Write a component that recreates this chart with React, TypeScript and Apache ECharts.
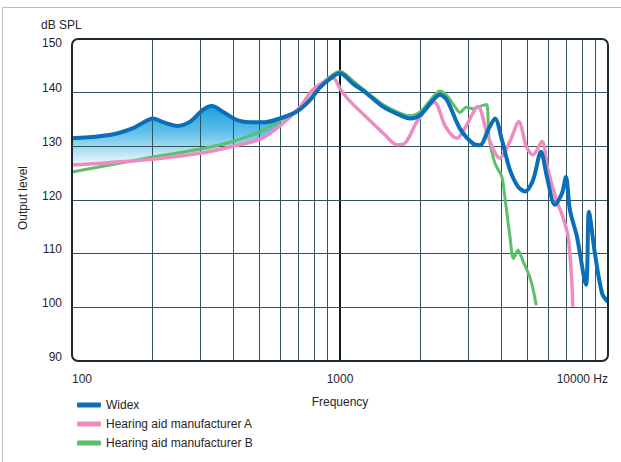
import React, { useEffect, useRef } from 'react';
import * as echarts from 'echarts';

// ---- Data ----
const widexFreq = [100, 127, 147, 169, 184, 200, 219, 247, 276, 308, 333, 372, 413, 462, 525, 597, 691, 773, 842, 942, 1000, 1118, 1261, 1446, 1674, 1824, 1989, 2223, 2360, 2508, 2803, 3136, 3329, 3567, 3788, 4019, 4306, 4615, 4900, 5250, 5623, 5918, 6340, 6730, 6966, 7211, 7656, 8274, 8492, 8933, 9506, 10000];
const widexLevel = [131.5, 131.9, 132.4, 133.4, 134.4, 135.2, 134.5, 133.8, 134.6, 136.8, 137.5, 136.2, 134.9, 134.5, 134.5, 135.2, 136.5, 138.6, 141.0, 143.0, 143.6, 141.7, 139.8, 137.4, 135.8, 135.2, 135.8, 138.6, 139.6, 138.6, 133.3, 130.5, 130.2, 133.0, 135.2, 131.2, 125.6, 122.5, 121.6, 123.7, 129.0, 124.3, 119.1, 121.2, 124.3, 118.1, 113.2, 104.2, 117.8, 110.1, 102.6, 101.0];

const mfrAFreq = [100, 200, 308, 398, 502, 597, 711, 793, 894, 942, 1000, 1080, 1269, 1473, 1630, 1740, 1953, 2250, 2474, 2730, 2925, 3273, 3567, 3951, 4306, 4650, 4960, 5250, 5670, 5970, 6420, 6780, 7100, 7320, 7390];
const mfrALevel = [126.5, 127.6, 128.8, 130.0, 131.3, 133.8, 137.4, 140.6, 142.4, 142.8, 140.8, 138.6, 135.2, 132.1, 130.3, 130.5, 134.9, 138.2, 133.7, 131.5, 133.4, 137.4, 131.8, 127.8, 130.9, 134.6, 129.9, 128.4, 130.9, 125.6, 120.0, 116.9, 113.2, 105.1, 100.1];

const mfrBFreq = [100, 200, 308, 398, 502, 597, 691, 773, 842, 942, 1000, 1118, 1261, 1446, 1674, 1824, 1989, 2223, 2360, 2508, 2700, 2803, 2960, 3136, 3350, 3520, 3600, 3788, 4019, 4120, 4306, 4440, 4615, 4800, 5150, 5400];
const mfrBLevel = [125.2, 128.0, 129.6, 130.9, 132.7, 134.8, 136.7, 138.9, 141.4, 143.4, 144.0, 142.2, 140.1, 137.8, 136.2, 135.7, 136.4, 139.2, 140.3, 139.4, 137.2, 136.3, 137.3, 137.0, 137.5, 137.8, 131.5, 126.8, 124.3, 120.6, 113.2, 109.1, 110.7, 108.8, 105.1, 100.4];

const seriesNames = ['Widex', 'Hearing aid manufacturer A', 'Hearing aid manufacturer B'];
const minorFreqs = [200, 300, 400, 500, 600, 700, 800, 900, 2000, 3000, 4000, 5000, 6000, 7000, 8000, 9000];
const gridLevels = [100, 110, 120, 130, 140];
const fillEndFreq = 597;

// ---- Styling ----
const FONT = '"Liberation Sans", Arial, Helvetica, sans-serif';
const TEXT = '#262626';
const GRIDC = '#34515d';
const BLUE = '#0b6eb9';
const PINK = '#ee8bc0';
const GREEN = '#5dbf6c';
const G = { left: 72, top: 39, right: 13, bottom: 101 };
const W = 621;
const H = 462;

const pairs = (xs: number[], ys: number[]) => xs.map((x, i) => [x, ys[i]]);

export default function App() {
  const ref = useRef<HTMLDivElement>(null);
  useEffect(() => {
    const chart = echarts.init(ref.current!, null, { renderer: 'svg', width: W, height: H });
    const upper = pairs(widexFreq, widexLevel).filter((p) => p[0] <= fillEndFreq);
    const lower = pairs(mfrAFreq, mfrALevel).filter((p) => p[0] <= fillEndFreq).reverse();

    const gridLines: any[] = [
      ...minorFreqs.map((f) => ({ xAxis: f, lineStyle: { color: GRIDC, width: 1, type: 'solid' } })),
      { xAxis: 1000, lineStyle: { color: '#111a1e', width: 2, type: 'solid' } },
      ...gridLevels.map((v) => ({ yAxis: v, lineStyle: { color: GRIDC, width: 1, type: 'solid' } })),
    ];

    const option: any = {
      animation: false,
      backgroundColor: '#ffffff',
      textStyle: { fontFamily: FONT },
      grid: { left: G.left, top: G.top, right: G.right, bottom: G.bottom, containLabel: false },
      legend: {
        data: seriesNames,
        orient: 'vertical',
        left: 72,
        top: 393,
        itemWidth: 24,
        itemHeight: 5,
        itemGap: 5,
        itemTextGap: 9,
        icon: 'roundRect',
        selectedMode: false,
        textStyle: { fontSize: 12, color: TEXT, fontFamily: FONT, lineHeight: 14 },
      },
      xAxis: {
        type: 'log',
        logBase: 10,
        min: 100,
        max: 10000,
        name: 'Frequency',
        nameLocation: 'middle',
        nameGap: 35,
        nameTextStyle: { fontSize: 12, color: TEXT, fontFamily: FONT },
        axisLine: { show: false },
        axisTick: { show: false },
        splitLine: { show: false },
        minorSplitLine: { show: false },
        axisLabel: {
          margin: 12,
          fontSize: 12,
          color: TEXT,
          fontFamily: FONT,
          alignMinLabel: 'left',
          alignMaxLabel: 'right',
          formatter: (v: number) => (v === 10000 ? '10000 Hz' : String(v)),
        },
      },
      yAxis: {
        type: 'value',
        min: 90,
        max: 150,
        interval: 10,
        axisLine: { show: false },
        axisTick: { show: false },
        splitLine: { show: false },
        axisLabel: {
          margin: 10,
          fontSize: 12,
          color: TEXT,
          fontFamily: FONT,
          formatter: (v: number) => (v === 150 ? '{t|' + v + '}' : '{n|' + v + '}'),
          rich: {
            t: { fontSize: 12, color: TEXT, fontFamily: FONT, padding: [8, 0, 0, 0] },
            n: { fontSize: 12, color: TEXT, fontFamily: FONT, padding: [0, 0, 9, 0] },
          },
        },
      },
      graphic: [
        { type: 'line', shape: { x1: 2.5, y1: 7.5, x2: W, y2: 7.5 }, style: { stroke: '#b9b9b9', lineWidth: 1 }, z: 0, silent: true },
        { type: 'line', shape: { x1: 2.5, y1: 7.5, x2: 2.5, y2: H }, style: { stroke: '#b9b9b9', lineWidth: 1 }, z: 0, silent: true },
        {
          type: 'rect',
          shape: { x: G.left, y: G.top, width: W - G.left - G.right, height: H - G.top - G.bottom, r: 6 },
          style: { fill: 'none', stroke: '#1a2b33', lineWidth: 2 },
          z: 50,
          silent: true,
        },
        { type: 'text', x: 41, y: 24.5, style: { text: 'dB SPL', fontSize: 12, fill: TEXT, fontFamily: FONT, verticalAlign: 'middle', align: 'left' }, silent: true },
        {
          type: 'text',
          x: 23,
          y: 198,
          rotation: Math.PI / 2,
          style: { text: 'Output level', fontSize: 12, fill: TEXT, fontFamily: FONT, verticalAlign: 'middle', align: 'center' },
          silent: true,
        },
      ],
      series: [
        {
          type: 'custom',
          name: 'fill',
          z: 1,
          silent: true,
          data: [upper[0]],
          encode: { x: 0, y: 1 },
          renderItem: (params: any, api: any) => {
            if (params.dataIndex !== 0) return null;
            const pts = [...upper, ...lower].map((p) => api.coord(p));
            return {
              type: 'polygon',
              shape: { points: pts },
              style: {
                fill: new echarts.graphic.LinearGradient(0, 0, 0, 1, [
                  { offset: 0, color: '#1a9fdc' },
                  { offset: 0.45, color: '#62c1ea' },
                  { offset: 1, color: '#f2fafd' },
                ]),
                stroke: 'none',
              },
            };
          },
        },
        {
          type: 'line',
          name: seriesNames[2],
          z: 3,
          color: GREEN,
          data: pairs(mfrBFreq, mfrBLevel),
          showSymbol: false,
          symbol: 'none',
          smooth: 0.3,
          lineStyle: { color: GREEN, width: 3 },
          markLine: {
            z: 2,
            silent: true,
            symbol: 'none',
            label: { show: false },
            emphasis: { disabled: true },
            animation: false,
            data: gridLines,
          },
        },
        {
          type: 'line',
          name: seriesNames[1],
          z: 3,
          color: PINK,
          data: pairs(mfrAFreq, mfrALevel),
          showSymbol: false,
          symbol: 'none',
          smooth: 0.3,
          lineStyle: { color: PINK, width: 3.5 },
        },
        {
          type: 'line',
          name: seriesNames[0],
          z: 3,
          color: BLUE,
          data: pairs(widexFreq, widexLevel),
          showSymbol: false,
          symbol: 'none',
          smooth: 0.3,
          lineStyle: { color: BLUE, width: 4 },
        },
      ],
    };
    chart.setOption(option);
    return () => chart.dispose();
  }, []);
  return <div ref={ref} style={{ position: 'fixed', left: 0, top: 0, width: W, height: H, background: '#fff' }} />;
}
